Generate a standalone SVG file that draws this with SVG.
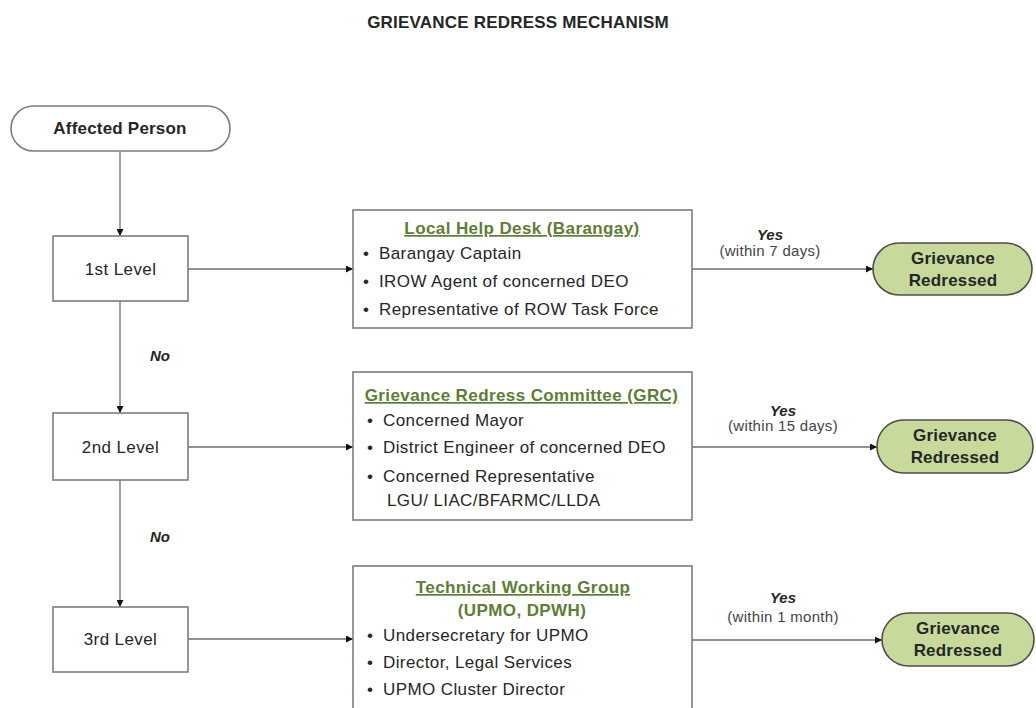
<svg xmlns="http://www.w3.org/2000/svg" width="1036" height="708" viewBox="0 0 1036 708">
<style>
text{font-family:"Liberation Sans",Arial,sans-serif;fill:#262626}
.t{font-size:17px;letter-spacing:0.4px}
.b{font-weight:bold;letter-spacing:0.2px}
.c{text-anchor:middle}
.h{font-size:17px;font-weight:bold;fill:#5e7d35;text-decoration:underline;text-anchor:middle;letter-spacing:0.4px}
.h2{font-size:17px;font-weight:bold;fill:#5e7d35;text-anchor:middle;letter-spacing:0.4px}
.box{fill:#fff;stroke:#7d7d7d;stroke-width:1.6}
.grv{fill:#c7da9c;stroke:#4d4d4d;stroke-width:1.6}
.ln{fill:none;stroke:#6e6e6e;stroke-width:1.3}
.yes{font-size:15px;font-weight:bold;font-style:italic;text-anchor:middle}
.sub{font-size:15px;fill:#444;text-anchor:middle;letter-spacing:0.3px}
.no{font-size:15px;font-weight:bold;font-style:italic;text-anchor:middle}
</style>
<defs>
<marker id="ar" viewBox="0 0 10 10" refX="10" refY="5" markerWidth="7" markerHeight="7" markerUnits="userSpaceOnUse" orient="auto">
<path d="M0,0 L10,5 L0,10 z" fill="#111"/>
</marker>
</defs>
<rect width="1036" height="708" fill="#fff"/>
<text id="title" class="t b c" x="518" y="28">GRIEVANCE REDRESS MECHANISM</text>

<g id="connectors">
<path class="ln" d="M120,151 V236" marker-end="url(#ar)"/>
<path class="ln" d="M120,301 V413" marker-end="url(#ar)"/>
<path class="ln" d="M120,480 V607" marker-end="url(#ar)"/>
<path class="ln" d="M188,269 H353" marker-end="url(#ar)"/>
<path class="ln" d="M188,447 H353" marker-end="url(#ar)"/>
<path class="ln" d="M188,639 H353" marker-end="url(#ar)"/>
<path class="ln" d="M692,269 H873" marker-end="url(#ar)"/>
<path class="ln" d="M692,447 H877" marker-end="url(#ar)"/>
<path class="ln" d="M692,640 H882" marker-end="url(#ar)"/>
<text class="no" x="160" y="361">No</text>
<text class="no" x="160" y="542">No</text>
<text class="yes" x="770" y="240">Yes</text>
<text class="sub" x="770" y="256">(within 7 days)</text>
<text class="yes" x="783" y="416">Yes</text>
<text class="sub" x="783" y="431">(within 15 days)</text>
<text class="yes" x="783" y="603">Yes</text>
<text class="sub" x="783" y="622">(within 1 month)</text>
</g>

<g id="affected">
<rect class="box" x="11" y="106" width="219" height="45" rx="22.5"/>
<text class="t b c" x="120" y="134">Affected Person</text>
</g>

<g id="level1">
<rect class="box" x="53" y="236" width="135" height="65"/>
<text class="t c" x="120.5" y="275">1st Level</text>
</g>
<g id="level2">
<rect class="box" x="53" y="413" width="135" height="67"/>
<text class="t c" x="120.5" y="453">2nd Level</text>
</g>
<g id="level3">
<rect class="box" x="53" y="607" width="135" height="65"/>
<text class="t c" x="120.5" y="645">3rd Level</text>
</g>

<g id="helpdesk">
<rect class="box" x="353" y="210" width="339" height="118"/>
<text class="h" x="522" y="234">Local Help Desk (Barangay)</text>
<text class="t" x="363" y="259">•</text><text class="t" x="379" y="259">Barangay Captain</text>
<text class="t" x="363" y="287">•</text><text class="t" x="379" y="287">IROW Agent of concerned DEO</text>
<text class="t" x="363" y="315">•</text><text class="t" x="379" y="315">Representative of ROW Task Force</text>
</g>

<g id="grc">
<rect class="box" x="353" y="372" width="339" height="148"/>
<text class="h" x="521.5" y="401">Grievance Redress Committee (GRC)</text>
<text class="t" x="367" y="426">•</text><text class="t" x="383" y="426">Concerned Mayor</text>
<text class="t" x="367" y="453">•</text><text class="t" x="383" y="453">District Engineer of concerned DEO</text>
<text class="t" x="367" y="482">•</text><text class="t" x="383" y="482">Concerned Representative</text>
<text class="t" x="387" y="506">LGU/ LIAC/BFARMC/LLDA</text>
</g>

<g id="twg">
<rect class="box" x="353" y="566" width="339" height="160"/>
<text class="h" x="523" y="593">Technical Working Group</text>
<text class="h2" x="522" y="616">(UPMO, DPWH)</text>
<text class="t" x="367" y="641">•</text><text class="t" x="383" y="641">Undersecretary for UPMO</text>
<text class="t" x="367" y="668">•</text><text class="t" x="383" y="668">Director, Legal Services</text>
<text class="t" x="367" y="695">•</text><text class="t" x="383" y="695">UPMO Cluster Director</text>
</g>

<g id="redressed1">
<rect class="grv" x="873" y="243" width="159" height="52" rx="26"/>
<text class="t b c" x="953" y="264">Grievance</text>
<text class="t b c" x="953" y="286">Redressed</text>
</g>
<g id="redressed2">
<rect class="grv" x="877" y="420" width="156" height="53" rx="26.5"/>
<text class="t b c" x="955" y="441">Grievance</text>
<text class="t b c" x="955" y="463">Redressed</text>
</g>
<g id="redressed3">
<rect class="grv" x="882" y="613" width="152" height="53" rx="26.5"/>
<text class="t b c" x="958" y="634">Grievance</text>
<text class="t b c" x="958" y="656">Redressed</text>
</g>
</svg>
